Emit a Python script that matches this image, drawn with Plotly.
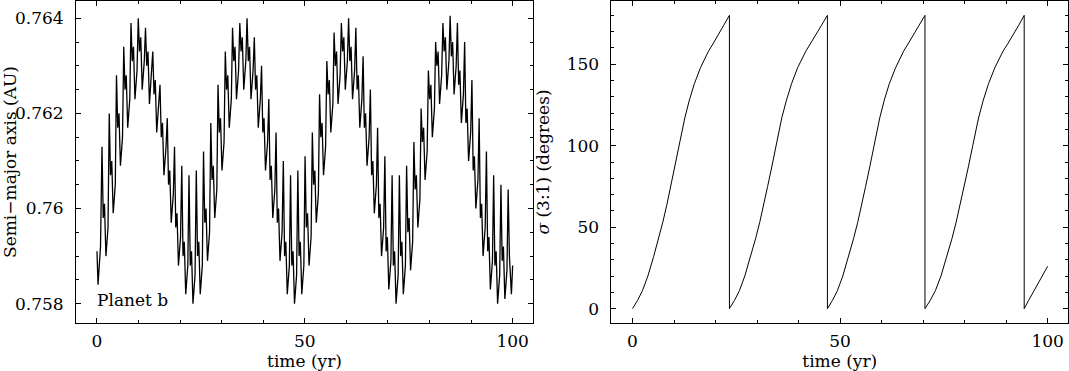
import plotly.graph_objects as go

# ---------------------------------------------------------------
# Left panel: semi-major axis of planet b (AU) vs time (yr),
# read off the picture in four ~25 yr stretches
# (per short cycle: spike tip, drop, shoulder, dip, pre-spike)
# ---------------------------------------------------------------
t_a1 = [0.00, 0.25, 0.85,
        1.20, 1.50, 1.80, 2.15, 2.65,
        2.95, 3.25, 3.55, 3.90, 4.40,
        4.69, 4.99, 5.29, 5.64, 6.14,
        6.44, 6.74, 7.04, 7.39, 7.89,
        8.18, 8.48, 8.78, 9.13, 9.63,
        9.93, 10.23, 10.53, 10.88, 11.38,
        11.67, 11.97, 12.27, 12.62, 13.12,
        13.42, 13.72, 14.02, 14.37, 14.87,
        15.16, 15.46, 15.76, 16.11, 16.61,
        16.91, 17.21, 17.51, 17.86, 18.36,
        18.65, 18.95, 19.25, 19.60, 20.10,
        20.40, 20.70, 21.00, 21.35, 21.85,
        22.14, 22.44, 22.74, 23.09, 23.59,
        23.89, 24.19, 24.49, 24.84, 25.34]
a_1 = [0.7591, 0.7584, 0.7592,
       0.7613, 0.7598, 0.7601, 0.7590, 0.7596,
       0.7620, 0.7607, 0.7610, 0.7599, 0.7605,
       0.7628, 0.7617, 0.7620, 0.7609, 0.7615,
       0.7634, 0.7625, 0.7628, 0.7617, 0.7623,
       0.7639, 0.7631, 0.7634, 0.7623, 0.7629,
       0.7640, 0.7633, 0.7636, 0.7625, 0.7631,
       0.7638, 0.7630, 0.7633, 0.7622, 0.7628,
       0.7633, 0.7624, 0.7627, 0.7616, 0.7622,
       0.7626, 0.7615, 0.7618, 0.7607, 0.7613,
       0.7619, 0.7605, 0.7608, 0.7597, 0.7603,
       0.7613, 0.7596, 0.7599, 0.7588, 0.7594,
       0.7609, 0.7590, 0.7593, 0.7582, 0.7588,
       0.7607, 0.7588, 0.7591, 0.7580, 0.7586,
       0.7608, 0.7590, 0.7593, 0.7582, 0.7588]

t_a2 = [25.63, 25.93, 26.23, 26.58, 27.08,
        27.38, 27.68, 27.98, 28.33, 28.83,
        29.12, 29.42, 29.72, 30.07, 30.57,
        30.87, 31.17, 31.47, 31.82, 32.32,
        32.61, 32.91, 33.21, 33.56, 34.06,
        34.36, 34.66, 34.96, 35.31, 35.81,
        36.10, 36.40, 36.70, 37.05, 37.55,
        37.85, 38.15, 38.45, 38.80, 39.30,
        39.59, 39.89, 40.19, 40.54, 41.04,
        41.34, 41.64, 41.94, 42.29, 42.79,
        43.08, 43.38, 43.68, 44.03, 44.53,
        44.83, 45.13, 45.43, 45.78, 46.28,
        46.57, 46.87, 47.17, 47.52, 48.02,
        48.32, 48.62, 48.92, 49.27, 49.77]
a_2 = [0.7612, 0.7597, 0.7600, 0.7589, 0.7595,
       0.7618, 0.7606, 0.7609, 0.7598, 0.7604,
       0.7626, 0.7616, 0.7619, 0.7608, 0.7614,
       0.7633, 0.7625, 0.7628, 0.7617, 0.7623,
       0.7638, 0.7631, 0.7634, 0.7623, 0.7629,
       0.7639, 0.7633, 0.7636, 0.7625, 0.7631,
       0.7640, 0.7631, 0.7634, 0.7623, 0.7629,
       0.7636, 0.7625, 0.7628, 0.7617, 0.7623,
       0.7630, 0.7616, 0.7619, 0.7608, 0.7614,
       0.7623, 0.7606, 0.7609, 0.7598, 0.7604,
       0.7616, 0.7597, 0.7600, 0.7589, 0.7595,
       0.7610, 0.7590, 0.7593, 0.7582, 0.7588,
       0.7607, 0.7588, 0.7591, 0.7580, 0.7586,
       0.7608, 0.7590, 0.7593, 0.7582, 0.7588]

t_a3 = [50.06, 50.36, 50.66, 51.01, 51.51,
        51.81, 52.11, 52.41, 52.76, 53.26,
        53.55, 53.85, 54.15, 54.50, 55.00,
        55.30, 55.60, 55.90, 56.25, 56.75,
        57.04, 57.34, 57.64, 57.99, 58.49,
        58.79, 59.09, 59.39, 59.74, 60.24,
        60.53, 60.83, 61.13, 61.48, 61.98,
        62.28, 62.58, 62.88, 63.23, 63.73,
        64.02, 64.32, 64.62, 64.97, 65.47,
        65.77, 66.07, 66.37, 66.72, 67.22,
        67.51, 67.81, 68.11, 68.46, 68.96,
        69.26, 69.56, 69.86, 70.21, 70.71,
        71.00, 71.30, 71.60, 71.95, 72.45,
        72.75, 73.05, 73.35, 73.70, 74.20]
a_3 = [0.7611, 0.7596, 0.7599, 0.7588, 0.7594,
       0.7616, 0.7605, 0.7608, 0.7597, 0.7603,
       0.7624, 0.7615, 0.7618, 0.7607, 0.7613,
       0.7631, 0.7624, 0.7627, 0.7616, 0.7622,
       0.7637, 0.7630, 0.7633, 0.7622, 0.7628,
       0.7639, 0.7633, 0.7636, 0.7625, 0.7631,
       0.7640, 0.7631, 0.7634, 0.7623, 0.7629,
       0.7638, 0.7625, 0.7628, 0.7617, 0.7623,
       0.7632, 0.7617, 0.7620, 0.7609, 0.7615,
       0.7625, 0.7607, 0.7610, 0.7599, 0.7605,
       0.7617, 0.7598, 0.7601, 0.7590, 0.7596,
       0.7611, 0.7591, 0.7594, 0.7583, 0.7589,
       0.7607, 0.7588, 0.7591, 0.7580, 0.7586,
       0.7607, 0.7590, 0.7593, 0.7582, 0.7588]

t_a4 = [74.49, 74.79, 75.09, 75.44, 75.94,
        76.24, 76.54, 76.84, 77.19, 77.69,
        77.98, 78.28, 78.58, 78.93, 79.43,
        79.73, 80.03, 80.33, 80.68, 81.18,
        81.47, 81.77, 82.07, 82.42, 82.92,
        83.22, 83.52, 83.82, 84.17, 84.67,
        84.96, 85.26, 85.56, 85.91, 86.41,
        86.71, 87.01, 87.31, 87.66, 88.16,
        88.45, 88.75, 89.05, 89.40, 89.90,
        90.20, 90.50, 90.80, 91.15, 91.65,
        91.94, 92.24, 92.54, 92.89, 93.39,
        93.69, 93.99, 94.29, 94.64, 95.14,
        95.43, 95.73, 96.03, 96.38, 96.88,
        97.18, 97.48, 97.78, 98.13, 98.63,
        98.92, 99.22, 99.70, 100.00]
a_4 = [0.7609, 0.7595, 0.7598, 0.7587, 0.7593,
       0.7614, 0.7604, 0.7607, 0.7596, 0.7602,
       0.7621, 0.7614, 0.7617, 0.7606, 0.7612,
       0.7629, 0.7623, 0.7626, 0.7615, 0.7621,
       0.7635, 0.7630, 0.7633, 0.7622, 0.7628,
       0.7639, 0.7633, 0.7636, 0.7625, 0.7631,
       0.76405, 0.7632, 0.7635, 0.7624, 0.7630,
       0.7639, 0.7626, 0.7629, 0.7618, 0.7624,
       0.7635, 0.7618, 0.7621, 0.7610, 0.7616,
       0.7627, 0.7608, 0.7611, 0.7600, 0.7606,
       0.7619, 0.7598, 0.7601, 0.7590, 0.7596,
       0.7612, 0.7591, 0.7594, 0.7583, 0.7589,
       0.7607, 0.7588, 0.7591, 0.7580, 0.7586,
       0.7605, 0.7589, 0.7592, 0.7581, 0.7587,
       0.7604, 0.7590, 0.7582, 0.7588]

# ---------------------------------------------------------------
# Right panel: resonant angle sigma (3:1) in degrees, wraps at 180
# ---------------------------------------------------------------
t_sig1 = [0.0, 1.2, 2.4, 3.7, 5.1, 6.3, 7.3, 8.3, 9.2, 10.2, 11.2,
          12.6, 13.7, 14.9, 16.4, 17.3, 18.3, 19.5, 20.7, 22.0, 23.35]
t_sig2 = [23.35, 24.55, 25.75, 27.05, 28.45, 29.65, 30.65, 31.65, 32.55, 33.55, 34.55,
          35.95, 37.1, 38.3, 39.8, 40.75, 41.75, 42.95, 44.2, 45.55, 46.95]
t_sig3 = [46.95, 48.15, 49.35, 50.65, 52.05, 53.25, 54.25, 55.25, 56.15, 57.15, 58.15,
          59.55, 60.65, 61.85, 63.4, 64.3, 65.3, 66.5, 67.75, 69.05, 70.45]
t_sig4 = [70.45, 71.7, 72.95, 74.3, 75.75, 76.95, 77.95, 78.95, 79.9, 80.9, 81.95,
          83.35, 84.5, 85.75, 87.3, 88.2, 89.25, 90.5, 91.75, 93.05, 94.35]
t_sig5 = [94.35, 95.4, 96.5, 97.6, 98.7, 100.0]

sig1 = [0, 5, 11, 20, 32, 43, 53, 64, 75, 87, 100, 117, 128, 138, 148, 153, 158, 163, 168, 174, 180]
sig2 = [0, 5, 11, 20, 32, 43, 53, 64, 75, 87, 100, 117, 128, 138, 148, 153, 158, 163, 168, 174, 180]
sig3 = [0, 5, 11, 20, 32, 43, 53, 64, 75, 87, 100, 117, 128, 138, 148, 153, 158, 163, 168, 174, 180]
sig4 = [0, 5, 11, 20, 32, 43, 53, 64, 75, 87, 100, 117, 128, 138, 148, 153, 158, 163, 168, 174, 180]
sig5 = [0, 5, 10, 15, 20, 26]

a_ticks = [0.758, 0.760, 0.762, 0.764]
a_tick_text = ["0.758", "0.76", "0.762", "0.764"]
t_ticks = [0, 50, 100]
sig_ticks = [0, 50, 100, 150]

FONT = dict(family="DejaVu Serif", size=17, color="#000")

fig = go.Figure()

fig.add_trace(go.Scatter(
    x=t_a1 + t_a2 + t_a3 + t_a4,
    y=a_1 + a_2 + a_3 + a_4,
    mode="lines",
    line=dict(color="#000", width=1.3),
    xaxis="x", yaxis="y",
    showlegend=False,
))

fig.add_trace(go.Scatter(
    x=t_sig1 + t_sig2 + t_sig3 + t_sig4 + t_sig5,
    y=sig1 + sig2 + sig3 + sig4 + sig5,
    mode="lines",
    line=dict(color="#000", width=1),
    xaxis="x2", yaxis="y2",
    showlegend=False,
))

frame = dict(
    showline=True, linecolor="#000", linewidth=1, mirror="ticks",
    ticks="inside", ticklen=5, tickcolor="#000", tickwidth=1,
    showgrid=False, zeroline=False, automargin=False,
    tickfont=FONT,
)

fig.update_layout(
    width=1069, height=371,
    margin=dict(l=76, r=1, t=1, b=48),
    paper_bgcolor="white", plot_bgcolor="white",
    font=FONT,
    xaxis=dict(
        frame, domain=[0, 0.4607], range=[-5.05, 104.9], anchor="y",
        tickvals=t_ticks, ticklabelstandoff=3,
        minor=dict(dtick=10, tick0=0, ticks="inside", ticklen=3, tickcolor="#000"),
        title=dict(text="time (yr)", font=FONT, standoff=3),
    ),
    yaxis=dict(
        frame, domain=[0, 1], range=[0.757593, 0.764363], anchor="x",
        tickvals=a_ticks, ticktext=a_tick_text, ticklabelstandoff=8,
        minor=dict(dtick=0.0005, tick0=0.758, ticks="inside", ticklen=3, tickcolor="#000"),
        title=dict(text="Semi\u2212major axis (AU)", font=FONT, standoff=2),
    ),
    xaxis2=dict(
        frame, domain=[0.5398, 1], range=[-5.06, 104.9], anchor="y2",
        tickvals=t_ticks, ticklabelstandoff=3,
        minor=dict(dtick=10, tick0=0, ticks="inside", ticklen=3, tickcolor="#000"),
        title=dict(text="time (yr)", font=FONT, standoff=3),
    ),
    yaxis2=dict(
        frame, domain=[0, 1], range=[-8.8, 188.8], anchor="x2",
        tickvals=sig_ticks, ticklabelstandoff=8,
        minor=dict(dtick=10, tick0=0, ticks="inside", ticklen=3, tickcolor="#000"),
        title=dict(text="<i>\u03c3</i> (3:1) (degrees)", font=FONT, standoff=12),
    ),
    annotations=[dict(
        text="Planet b", x=-0.6, y=0.75807, xref="x", yref="y",
        xanchor="left", yanchor="middle", showarrow=False, font=FONT,
    )],
)

# the page body has a default 8px margin; drop it so the figure sits at 0,0
fig.write_html(
    "out.html",
    config={"displayModeBar": False},
    post_script="document.body.style.margin='0';",
)
